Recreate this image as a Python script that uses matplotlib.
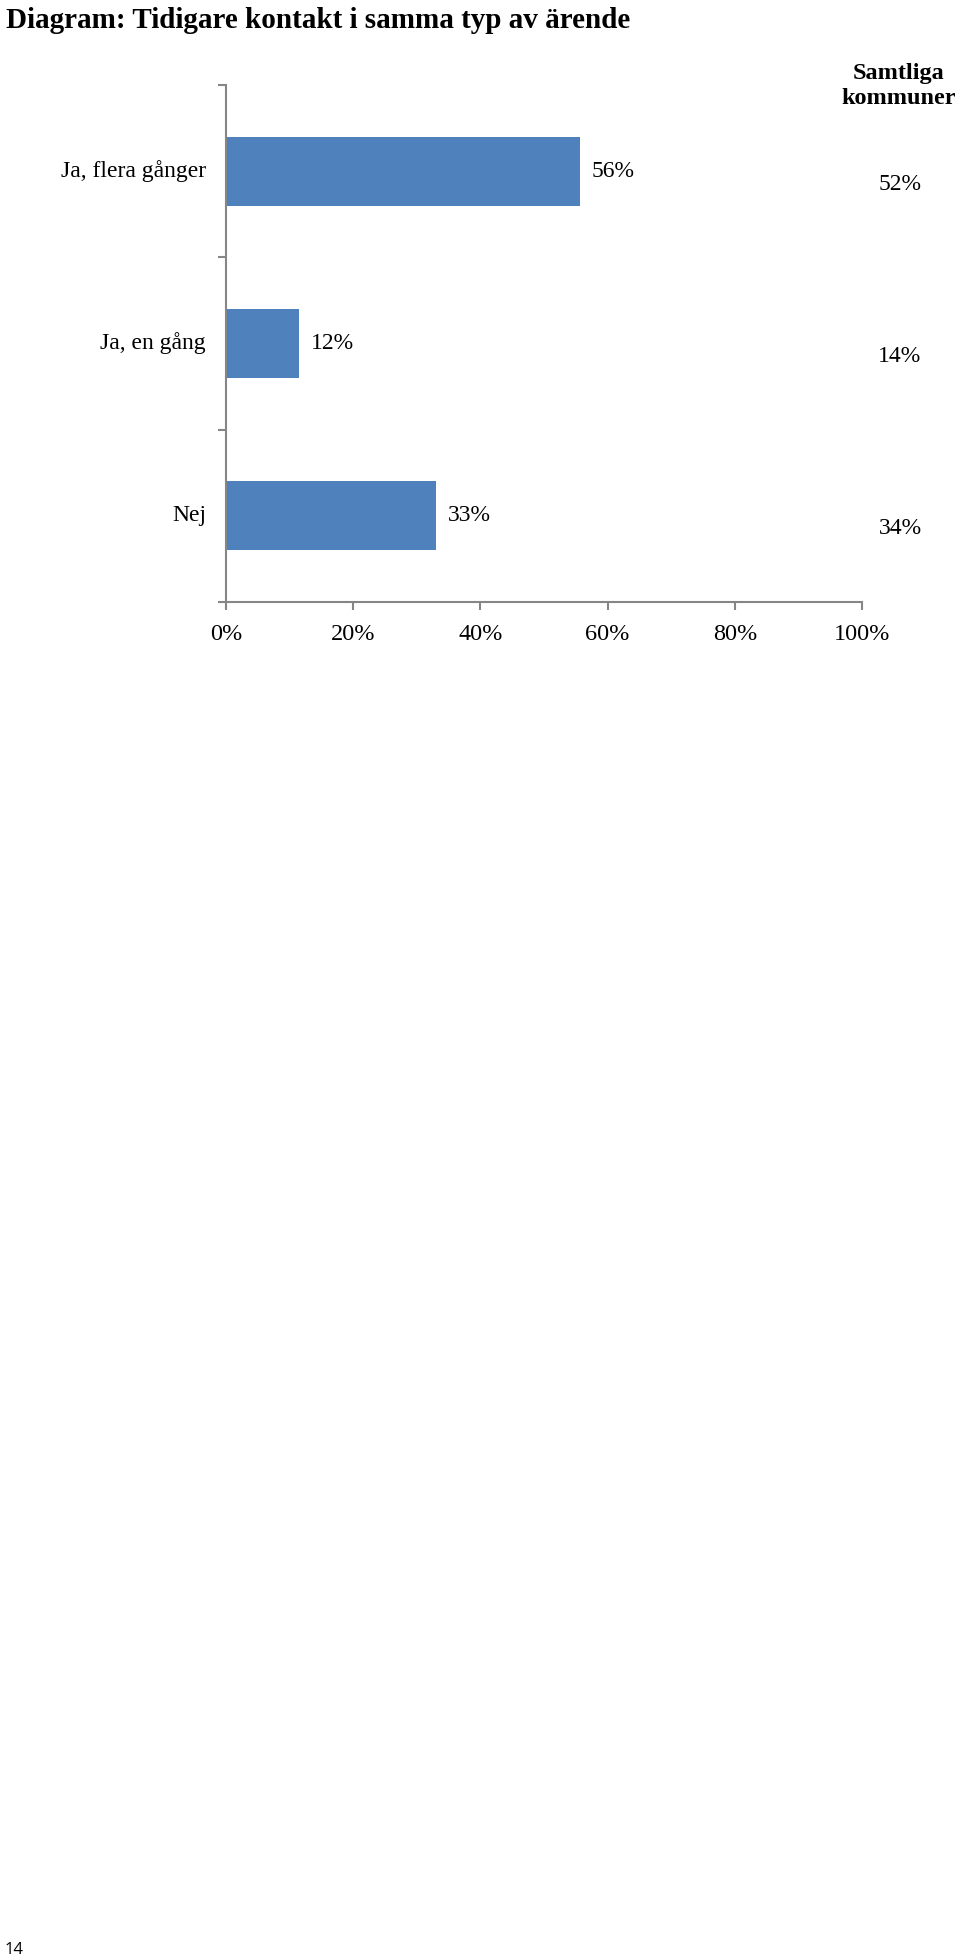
import matplotlib
matplotlib.use('Agg')
import matplotlib.pyplot as plt

# data
categories = ['Ja, flera gånger', 'Ja, en gång', 'Nej']
values = [55.6, 11.5, 33.0]
value_labels = ['56%', '12%', '33%']
all_labels = ['52%', '14%', '34%']
xticks = [0, 20, 40, 60, 80, 100]
xtick_labels = ['0%', '20%', '40%', '60%', '80%', '100%']

W, H = 960, 1957
fig = plt.figure(figsize=(W / 100, H / 100), dpi=100)
serif = 'Liberation Serif'
bar_color = '#4F81BD'
axis_color = '#868686'

# axes placed in pixel terms
left, right, top, bottom = 226, 862, 85, 602
ax = fig.add_axes([left / W, 1 - bottom / H, (right - left) / W, (bottom - top) / H])

y = list(range(len(categories)))
ax.barh(y, values, height=0.4, color=bar_color)
ax.set_xlim(0, 100)
ax.set_ylim(len(categories) - 0.5, -0.5)

for s in ['top', 'right']:
    ax.spines[s].set_visible(False)
for s in ['left', 'bottom']:
    ax.spines[s].set_color(axis_color)
    ax.spines[s].set_linewidth(1.5)

ax.set_yticks([i - 0.5 for i in range(len(categories) + 1)])
ax.set_yticklabels([])
ax.set_xticks(xticks)
ax.set_xticklabels(xtick_labels, fontsize=17.5, family=serif)
ax.tick_params(axis='both', color=axis_color, length=6, width=1.5)
ax.tick_params(axis='x', pad=10)

for i, c in enumerate(categories):
    ax.annotate(c, xy=(0, i), xytext=(-20, 0), textcoords='offset pixels',
                ha='right', va='center', fontsize=17, family=serif)
    ax.annotate(value_labels[i], xy=(values[i], i), xytext=(12, 0), textcoords='offset pixels',
                ha='left', va='center', fontsize=17, family=serif)
    ax.annotate(all_labels[i], xy=(1, i), xycoords=('axes fraction', 'data'),
                xytext=(38, -13), textcoords='offset pixels',
                ha='center', va='center', fontsize=17, family=serif)

fig.text(899 / W, 1 - 86 / H, 'Samtliga\nkommuner', ha='center', va='center',
         fontsize=17.5, family=serif, fontweight='bold', linespacing=1.25)

fig.text(6 / W, 1 - 20 / H, 'Diagram: Tidigare kontakt i samma typ av ärende',
         ha='left', va='center', fontsize=21, family=serif, fontweight='bold')

fig.text(5 / W, 1 - 1950 / H, '14', ha='left', va='center', fontsize=12, family='Open Sans')

fig.savefig('out.png', dpi=100, facecolor='white')
